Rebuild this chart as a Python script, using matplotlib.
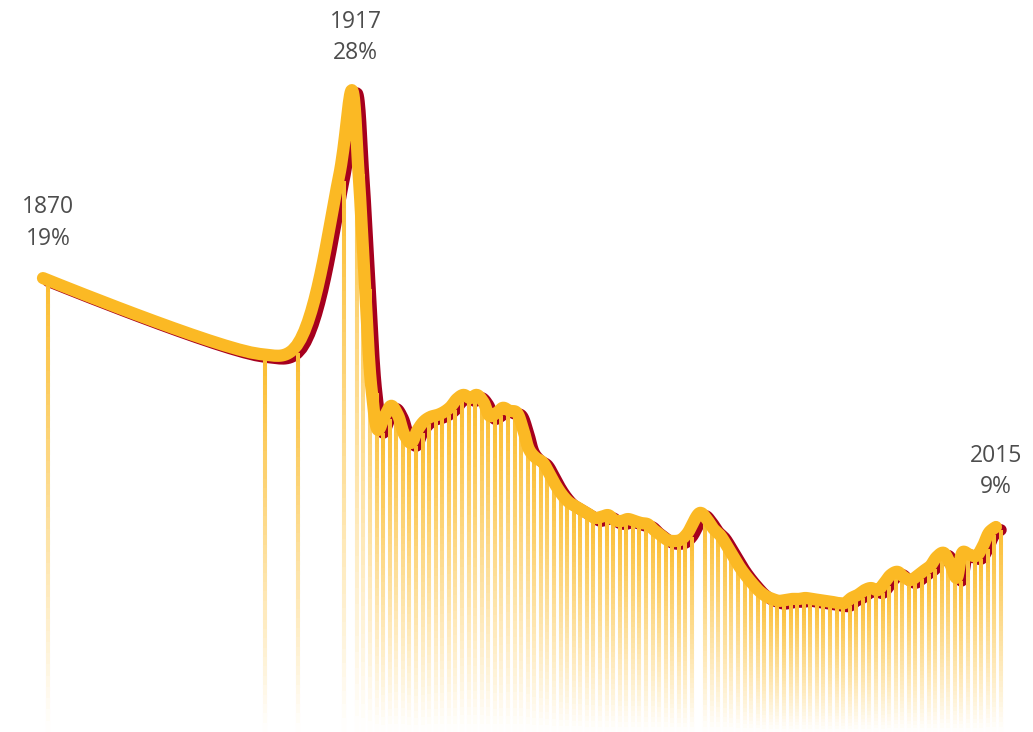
import numpy as np
import matplotlib
matplotlib.use("Agg")
import matplotlib.pyplot as plt
from matplotlib.collections import LineCollection
from matplotlib.transforms import offset_copy
from matplotlib.colors import to_rgb

# ---- data -------------------------------------------------------------
years = [1870, 1903, 1908, 1915, 1917, 1918, 1919, 1920, 1921, 1922, 1923,
         1924, 1925, 1926, 1927, 1928, 1929, 1930, 1931, 1932, 1933, 1934,
         1935, 1936, 1937, 1938, 1939, 1940, 1941, 1942, 1943, 1944, 1945,
         1946, 1947, 1948, 1949, 1950, 1951, 1952, 1953, 1954, 1955, 1956,
         1957, 1958, 1959, 1960, 1961, 1962, 1963, 1964, 1965, 1966, 1967,
         1968, 1970, 1971, 1972, 1973, 1974, 1975, 1976, 1977, 1978, 1979,
         1980, 1981, 1982, 1983, 1984, 1985, 1986, 1987, 1988, 1989, 1990,
         1991, 1992, 1993, 1994, 1995, 1996, 1997, 1998, 1999, 2000, 2001,
         2002, 2003, 2004, 2005, 2006, 2007, 2008, 2009, 2010, 2011, 2012,
         2013, 2014, 2015]

share = [19.00, 15.70, 15.87, 23.66, 28.00, 24.00, 18.65, 14.22, 12.61, 13.16, 13.57,
         13.20, 12.42, 12.10, 12.61, 12.96, 13.13, 13.20, 13.32, 13.52, 13.85, 14.01,
         13.88, 14.01, 13.73, 13.16, 13.28, 13.49, 13.37, 13.32, 12.69, 11.83, 11.53,
         11.37, 10.96, 10.51, 10.15, 9.89, 9.74, 9.60, 9.46, 9.32, 9.36, 9.42,
         9.24, 9.21, 9.28, 9.21, 9.14, 9.10, 8.89, 8.72, 8.55, 8.51, 8.55,
         8.76, 9.50, 9.28, 8.94, 8.72, 8.37, 8.00, 7.63, 7.33, 7.07, 6.84,
         6.68, 6.59, 6.53, 6.56, 6.59, 6.59, 6.62, 6.59, 6.56, 6.53, 6.50,
         6.46, 6.46, 6.62, 6.72, 6.87, 6.94, 6.87, 7.10, 7.37, 7.47, 7.30,
         7.20, 7.33, 7.50, 7.66, 7.97, 8.11, 7.76, 7.27, 8.14, 8.04, 8.00,
         8.33, 8.82, 9.00]

# labelled points: (year, text for the year, text for the value)
callouts = [(1870, "1870", "19%"), (1917, "1917", "28%"), (2015, "2015", "9%")]

# ---- style ------------------------------------------------------------
YELLOW = "#fbb924"
CRIMSON = "#a6001e"
TEXT = "#4d4d4d"
FONT = ["Open Sans", "DejaVu Sans"]
POWER = 0.675  # compressive vertical scale


def fwd(v):
    return np.power(np.clip(v, 0, None), POWER)


def inv(u):
    return np.power(np.clip(u, 0, None), 1 / POWER)


def catmull_rom(pts, alpha=0.5, n=16):
    """Centripetal Catmull-Rom curve through screen points (d3 style)."""
    pts = np.asarray(pts, float)
    count = len(pts)
    t = np.linspace(0, 1, n + 1)[1:, None]
    out = [pts[:1]]
    for i in range(count - 1):
        p1, p2 = pts[i], pts[i + 1]
        p0 = pts[i - 1] if i > 0 else p1
        p3 = pts[i + 2] if i + 2 < count else p2
        d01 = np.hypot(*(p1 - p0))
        d12 = np.hypot(*(p2 - p1))
        d23 = np.hypot(*(p3 - p2))
        l01a, l01b = d01 ** alpha, d01 ** (2 * alpha)
        l12a, l12b = d12 ** alpha, d12 ** (2 * alpha)
        l23a, l23b = d23 ** alpha, d23 ** (2 * alpha)
        c1 = p1.copy()
        if l01a > 1e-9:
            a = 2 * l01b + 3 * l01a * l12a + l12b
            m = 3 * l01a * (l01a + l12a)
            c1 = (p1 * a - p0 * l12b + p2 * l01b) / m
        c2 = p2.copy()
        if l23a > 1e-9:
            b = 2 * l23b + 3 * l23a * l12a + l12b
            m = 3 * l23a * (l23a + l12a)
            c2 = (p2 * b + p1 * l23b - p3 * l12b) / m
        seg = ((1 - t) ** 3 * p1 + 3 * (1 - t) ** 2 * t * c1
               + 3 * (1 - t) * t ** 2 * c2 + t ** 3 * p2)
        out.append(seg)
    return np.vstack(out)


fig = plt.figure(figsize=(10.33, 7.32), dpi=100)
ax = fig.add_axes([0, 0, 1, 1])
ax.set_axis_off()
ax.set_yscale("function", functions=(fwd, inv))
ax.set_xlim(1862.70, 2019.88)
ax.set_ylim(2.918, 32.86)

to_screen = ax.transData
to_data = ax.transData.inverted()

# smooth the series in screen space, then bring it back to data units
screen = to_screen.transform(np.column_stack([years, share]))
curve = to_data.transform(catmull_rom(screen))
cx, cy = curve[:, 0], curve[:, 1]

# dark shadow line carries the data
ax.plot(cx, cy, color=CRIMSON, lw=8.4, solid_capstyle="round",
        solid_joinstyle="round", zorder=1)

# one stem per year, fading from its top down to the bottom edge
base = np.array(to_rgb(YELLOW))
floor = ax.get_ylim()[0]
pieces = 40
segs, cols = [], []
for yr, v in zip(years, share):
    top_px = to_screen.transform((yr, v))[1]
    bot_px = to_screen.transform((yr, floor))[1]
    px = np.linspace(top_px, bot_px, pieces + 1)
    step = (top_px - bot_px) / pieces
    for j in range(pieces):
        lo_px = max(px[j + 1] - 0.4 * step, bot_px)
        y_hi = to_data.transform((0, px[j]))[1]
        y_lo = to_data.transform((0, lo_px))[1]
        segs.append([(yr, y_hi), (yr, y_lo)])
        a = 0.95 * (1 - (j + 0.5) / pieces)
        cols.append(tuple(a * base + (1 - a)))
ax.add_collection(LineCollection(segs, colors=cols, linewidths=2.9,
                                 capstyle="butt", zorder=2))

# bright line, nudged up and to the left of the shadow
lift = offset_copy(ax.transData, fig=fig, x=-5, y=3, units="dots")
ax.plot(cx, cy, color=YELLOW, lw=8.8, solid_capstyle="round",
        solid_joinstyle="round", transform=lift, zorder=3)

# callouts above the labelled points
offsets = {1870: (0, 68, 36), 1917: (-1, 65, 34), 2015: (-5, 68, 37)}
lookup = dict(zip(years, share))
for yr, ytxt, vtxt in callouts:
    dx, dy_year, dy_val = offsets[yr]
    for txt, dy in ((ytxt, dy_year), (vtxt, dy_val)):
        ax.annotate(txt, xy=(yr, lookup[yr]), xytext=(dx, dy),
                    textcoords="offset pixels", ha="center", va="baseline",
                    fontsize=16.5, color=TEXT, family=FONT)

fig.savefig("out.png", dpi=100, facecolor="white")
